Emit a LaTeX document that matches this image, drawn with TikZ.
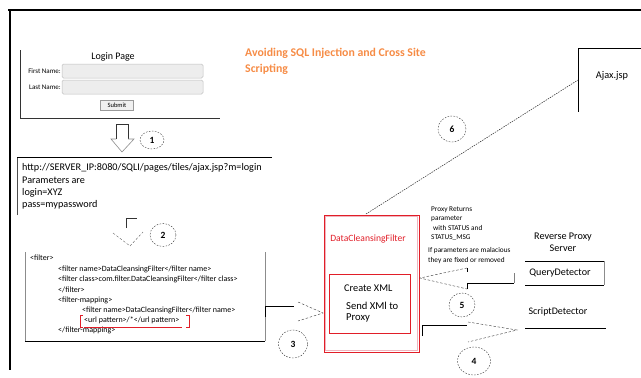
\documentclass[tikz,border=0pt]{standalone}
\usepackage{fontspec}
\setmainfont{Carlito}
\usetikzlibrary{shapes.geometric}
\definecolor{ttlorange}{RGB}{246,140,70}
\definecolor{filterred}{RGB}{225,30,40}
\definecolor{pinkline}{RGB}{240,180,190}
\begin{document}
\begin{tikzpicture}[x=1pt,y=-1pt,
  txt/.style={inner sep=0pt, anchor=west},
  ctxt/.style={inner sep=0pt, anchor=center},
  numc/.style={draw=black!80, dash pattern=on 1.6pt off 1.4pt, ellipse, inner sep=0pt, font=\bfseries\fontsize{9.5}{9.5}\selectfont},
  dashchev/.style={dash pattern=on 2.5pt off 1.8pt, thin},
  fld/.style={draw=black!25, fill=black!7, rounded corners=1.5pt, line width=0.5pt}]
\useasboundingbox (0,0) rectangle (641,378);
% outer frame
\draw[line width=2.5pt] (8,10) -- (641,10);
\draw[line width=2.5pt] (10,9) -- (10,370);
% login page
\draw[black!80, line width=0.6pt] (20,50) -- (20,118) -- (220,118);
\node[ctxt, font=\fontsize{10}{10}\selectfont] (logintitle) at (113,57) {Login Page};
\draw[fld] (62,64) rectangle (203,78);
\draw[fld] (62,80) rectangle (203,94);
\node[inner sep=0pt, anchor=east, font=\fontsize{7}{7}\selectfont] (fn) at (61,71) {First Name:};
\node[inner sep=0pt, anchor=east, font=\fontsize{7}{7}\selectfont] (ln) at (61,87) {Last Name:};
\node[draw=black!40, fill=black!6, minimum width=33pt, minimum height=10pt, inner sep=0pt, font=\fontsize{6.5}{6.5}\selectfont] (submit) at (117,105) {Submit};
% title
\node[txt, text=ttlorange, font=\bfseries\fontsize{11.8}{12}\selectfont] (title1) at (245,53) {Avoiding SQL Injection and Cross Site};
\node[txt, text=ttlorange, font=\bfseries\fontsize{11.8}{12}\selectfont] (title2) at (245,69) {Scripting};
% arrow 1
\draw[black!80, line width=0.6pt] (116,139) -- (116,124) -- (128,124) -- (128,139);
\draw[black!45, line width=0.6pt] (116,139) -- (111,139) -- (122,152) -- (134,139) -- (128,139);
\node[numc, minimum width=24pt, minimum height=18pt] (n1) at (152,140) {1};
% url box
\draw[black!70, line width=0.5pt] (17,215) -- (17,157);
\draw[black, line width=0.7pt] (17,157) -- (272,157);
\node[txt, font=\fontsize{10.2}{11}\selectfont] (url) at (22,168) {http://SERVER\_IP:8080/SQLI/pages/tiles/ajax.jsp?m=login};
\node[txt, font=\fontsize{10.2}{11}\selectfont] (par) at (22,180) {Parameters are};
\node[txt, font=\fontsize{10.2}{11}\selectfont] (lg) at (22,193) {login=XYZ};
\node[txt, font=\fontsize{10.2}{11}\selectfont] (ps) at (22,205) {pass=mypassword};
% arrow 2
\draw[black!80, line width=0.6pt] (126,228) -- (126,218) -- (137,218);
\draw[black!60, dashchev] (113,233) -- (130,246) -- (143,232);
\node[numc, minimum width=26pt, minimum height=23pt] (n2) at (163,235) {2};
% filter box
\draw[black!45, line width=0.6pt] (25,252) -- (25,341);
\draw[black!45, line width=0.6pt] (265,252) -- (265,341);
\draw[black, line width=0.7pt] (25,341) -- (265,341);
\begin{scope}[font=\fontsize{8}{8}\selectfont]
\node[txt] (f1) at (30,258) {<filter>};
\node[txt] (f2) at (58,269) {<filter name>DataCleansingFilter</filter name>};
\node[txt] (f3) at (58,279) {<filter class>com.filter.DataCleansingFilter</filter class>};
\node[txt] (f4) at (58,290) {</filter>};
\node[txt] (f5) at (58,300) {<filter-mapping>};
\node[txt] (f6) at (82,310) {<filter name>DataCleansingFilter</filter name>};
\node[txt] (f7) at (84,320) {<url pattern>/*</url pattern>};
\node[txt] (f8) at (58,330) {</filter-mapping>};
\end{scope}
\draw[filterred, line width=0.6pt] (83,315.5) -- (80,315.5) -- (80,327) -- (83,327);
\draw[filterred, line width=0.6pt] (84,327.5) -- (182,327.5);
\draw[filterred, line width=0.6pt] (186,315.5) -- (189,315.5) -- (189,327) -- (186,327);
% arrow 3
\draw[black, line width=0.7pt] (265,317) -- (265,306) -- (294,306);
\draw[black!80, dashchev] (298,302) -- (323,313) -- (298,321);
\node[numc, minimum width=29pt, minimum height=28pt] (n3) at (293,344) {3};
% DataCleansingFilter
\draw[pinkline, line width=1.2pt] (325.5,216.5) rectangle (417.5,350.5);
\draw[filterred, line width=0.7pt] (324,215) rectangle (419,352);
\node[ctxt, text=filterred, font=\fontsize{9.6}{10}\selectfont] (dcf) at (368,239) {DataCleansingFilter};
\draw[filterred, line width=0.7pt] (329,274) rectangle (410,333);
\node[txt, font=\fontsize{10.3}{10}\selectfont] (cx) at (344,288) {Create XML};
\node[txt, font=\fontsize{10.6}{10}\selectfont] (sx) at (346,306) {Send XMl to};
\node[txt, font=\fontsize{10.6}{10}\selectfont] (px) at (346,318) {Proxy};
% proxy returns notes
\begin{scope}[font=\fontsize{7.3}{7.3}\selectfont]
\node[txt] (pr1) at (431,210) {Proxy Returns};
\node[txt] (pr2) at (431,219) {parameter};
\node[txt] (pr3) at (433,228) {with STATUS and};
\node[txt] (pr4) at (431,238) {STATUS\_MSG};
\node[txt] (pr5) at (428,251) {If parameters are malacious};
\node[txt] (pr6) at (428,261) {they are fixed or removed};
\end{scope}
% arrow 5
\draw[black!80, dashchev] (467,268) -- (420,278) -- (467,289);
\draw[black, line width=0.6pt] (467,268) -- (467,272);
\draw[black, line width=0.7pt] (467,289) -- (467,283) -- (514,283);
\draw[black!50, line width=0.7pt] (514,283) -- (514,273);
\node[numc, minimum width=26pt, minimum height=24pt] (n5) at (462,305) {5};
% arrow 4
\draw[black, line width=0.7pt] (422,336) -- (422,325) -- (467,325);
\draw[black!80, dashchev] (468,322) -- (517,330) -- (468,342);
\node[numc, minimum width=33pt, minimum height=28pt] (n4) at (474,361) {4};
% reverse proxy server
\node[ctxt, font=\fontsize{10.2}{10}\selectfont] (rp1) at (563,237) {Reverse Proxy};
\node[ctxt, font=\fontsize{10.2}{10}\selectfont] (rp2) at (563,248) {Server};
\draw[black, line width=0.7pt] (604,261) -- (525,261);
\draw[black, line width=0.7pt] (525,285) -- (604,285);
\draw[black!45, line width=0.8pt] (604,261) -- (604,285);
\node[ctxt, font=\fontsize{10.1}{10}\selectfont] (qd) at (560,273) {QueryDetector};
\node[ctxt, font=\fontsize{10}{10}\selectfont] (sd) at (558,312) {ScriptDetector};
\draw[black, line width=0.7pt] (525,328) -- (606,328);
% ajax
\draw[black, line width=0.7pt] (641,48) -- (578,48) -- (578,112);
\node[ctxt, font=\fontsize{10.3}{10}\selectfont] (ajax) at (612,76) {Ajax.jsp};
\coordinate (ajaxin) at (578,80);
\coordinate (dcftop) at (366,214);
\draw[black!85, line width=0.5pt, dash pattern=on 1.5pt off 1pt] (dcftop) -- (ajaxin);
\node[numc, minimum width=28pt, minimum height=26pt] (n6) at (452,129) {6};
\end{tikzpicture}
\end{document}
